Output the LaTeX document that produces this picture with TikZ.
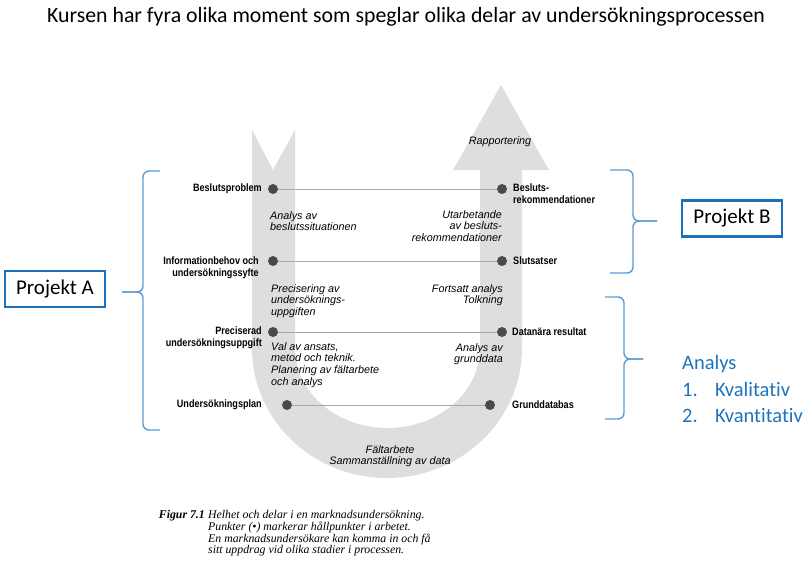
\documentclass[tikz,border=0pt]{standalone}
\usepackage{fontspec}
\usepackage{xcolor}
\newfontfamily\titlefont[Ligatures=NoCommon]{Carlito}
\newfontfamily\labelfont[FakeStretch=0.85]{Liberation Sans}
\newfontfamily\descfont{Liberation Sans}
\newfontfamily\capfont{Liberation Serif}
\definecolor{band}{HTML}{DEDEDE}
\definecolor{dotgray}{HTML}{4A4A4A}
\definecolor{linkgray}{HTML}{A8A8A8}
\definecolor{bracelight}{HTML}{5B9BD5}
\definecolor{boxblue}{HTML}{1F6FBF}
\definecolor{textblue}{HTML}{1E73BE}

\begin{document}
\begin{tikzpicture}[
  x=1pt, y=-1pt,
  dot/.style={circle, fill=dotgray, inner sep=0pt, minimum size=10pt},
  lbl/.style={inner sep=0pt, font=\labelfont\bfseries\fontsize{10.7}{12}\selectfont},
  desc/.style={inner sep=0pt, font=\descfont\itshape\fontsize{10.8}{11.8}\selectfont},
  link/.style={draw=linkgray, line width=0.7pt},
  projbox/.style={draw=boxblue, line width=2.2pt, inner sep=0pt, minimum width=100pt, minimum height=36pt, font=\titlefont\fontsize{21}{24}\selectfont},
  brace/.style={draw=bracelight, line width=1.4pt, rounded corners=6pt}
]
\useasboundingbox (0,0) rectangle (812,574);

\node[font=\titlefont\fontsize{21.8}{24}\selectfont] (title) at (406,17)
  {Kursen har fyra olika moment som speglar olika delar av undersökningsprocessen};

% U band
\fill[band] (252,130) -- (273,170) -- (295,130) -- (295,348)
  arc[start angle=180, end angle=0, x radius=92.5, y radius=80]
  -- (480,170) -- (453,170) -- (501,85) -- (549,170) -- (522,170) -- (522,348)
  arc[start angle=0, end angle=180, x radius=135, y radius=130] -- cycle;

% dots
\node[dot] (bp) at (273,189) {};
\node[dot] (ib) at (273,261) {};
\node[dot] (pu) at (273,332) {};
\node[dot] (up) at (287,405) {};
\node[dot] (br) at (502,189) {};
\node[dot] (sl) at (502,261) {};
\node[dot] (dr) at (502,332) {};
\node[dot] (gd) at (490,405) {};

\draw[link] (bp) -- (br);
\draw[link] (ib) -- (sl);
\draw[link] (pu) -- (dr);
\draw[link] (up) -- (gd);

% left labels
\node[lbl, anchor=east] (bpl) at (262,189) {Beslutsproblem};
\node[lbl, anchor=north east, align=right] (ibl) at (259,257) {Informationbehov och\\undersökningssyfte};
\node[lbl, anchor=north east, align=right] (pul) at (262,327) {Preciserad\\undersökningsuppgift};
\node[lbl, anchor=east] (upl) at (262,405) {Undersökningsplan};

% right labels
\node[lbl, anchor=north west, align=left] (brl) at (513,184) {Besluts-\\rekommendationer};
\node[lbl, anchor=west] (sll) at (513,261) {Slutsatser};
\node[lbl, anchor=west] (drl) at (512,332) {Datanära resultat};
\node[lbl, anchor=west] (gdl) at (512,405) {Grunddatabas};

% steps along the band
\node[desc, anchor=north west, align=left] (d1) at (270,211) {Analys av\\beslutssituationen};
\node[desc, anchor=north east, align=right] (d2) at (502,210) {Utarbetande\\av besluts-\\rekommendationer};
\node[desc, anchor=north west, align=left] (d3) at (271,284) {Precisering av\\undersöknings-\\uppgiften};
\node[desc, anchor=north east, align=right] (d4) at (503,284) {Fortsatt analys\\Tolkning};
\node[desc, anchor=north west, align=left] (d5) at (271,342) {Val av ansats,\\metod och teknik.\\Planering av fältarbete\\och analys};
\node[desc, anchor=north east, align=right] (d6) at (503,343) {Analys av\\grunddata};
\node[desc] (d7) at (500,142) {Rapportering};
\node[desc, anchor=north, align=center] (d8) at (390,445) {Fältarbete\\Sammanställning av data};

% caption
\node[inner sep=0pt, anchor=north west, align=left, font=\capfont\itshape\fontsize{11.8}{10.9}\selectfont] (captxt) at (208,510)
  {Helhet och delar i en marknadsundersökning.\\Punkter (\textbullet) markerar hållpunkter i arbetet.\\En marknadsundersökare kan komma in och få\\sitt uppdrag vid olika stadier i processen.};
\node[inner sep=0pt, anchor=north east, font=\capfont\bfseries\itshape\fontsize{11.8}{10.9}\selectfont] (capnum) at ([xshift=-3pt]captxt.north west) {Figur 7.1};

% projects
\node[projbox] (pa) at (55,289) {Projekt A};
\node[projbox] (pb) at (732,218.5) {Projekt B};

\draw[brace] (160,171) -- (143,171) -- (143,292) -- (122,292);
\draw[brace] (122,292) -- (143,292) -- (143,430) -- (160,430);
\draw[brace] (610,170) -- (633,170) -- (633,221) -- (657,221);
\draw[brace] (657,221) -- (633,221) -- (633,273) -- (610,273);
\draw[brace] (605,297) -- (624,297) -- (624,359) -- (643,359);
\draw[brace] (643,359) -- (624,359) -- (624,419) -- (605,419);

\node[anchor=west, inner sep=0pt, align=left, text=textblue, font=\titlefont\fontsize{20.5}{26.5}\selectfont] (an) at (682,389)
  {Analys\\\makebox[33pt][l]{1.}Kvalitativ\\\makebox[33pt][l]{2.}Kvantitativ};

\end{tikzpicture}
\end{document}
